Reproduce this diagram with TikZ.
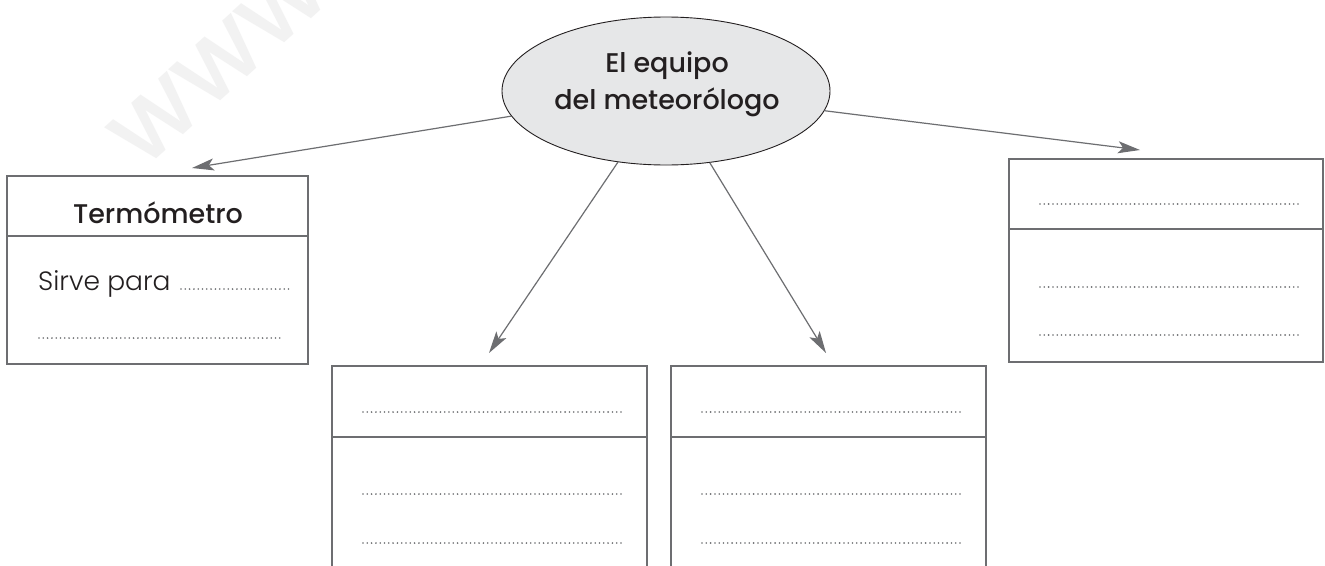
\documentclass[tikz,border=0pt]{standalone}
\usepackage{fontspec}
\setmainfont{Poppins}
\newfontfamily\lightfont{Poppins Light}
\newfontfamily\medfont{Poppins Medium}
\usetikzlibrary{shapes.geometric,arrows.meta}
\definecolor{linegray}{HTML}{6D6E71}
\definecolor{inkdark}{HTML}{231F20}
\definecolor{ellfill}{HTML}{E6E7E8}
\definecolor{wmgray}{HTML}{F2F2F2}
\definecolor{dotgray}{HTML}{6D6E71}
\begin{document}
\begin{tikzpicture}[x=1pt,y=-1pt,
  cell/.style={draw=linegray, line width=2pt, rectangle, inner sep=0pt, outer sep=0pt, anchor=north west},
  ellnode/.style={ellipse, draw=inkdark, line width=0.9pt, fill=ellfill, minimum width=328pt, minimum height=148pt, inner sep=0pt},
  title/.style={text=inkdark, font=\medfont\fontsize{27}{34}\selectfont, anchor=base, inner sep=0pt},
  lighttext/.style={text=inkdark, font=\lightfont\fontsize{26.5}{34}\selectfont, anchor=base west, inner sep=0pt},
  dots/.style={draw=dotgray, line width=1.8pt, line cap=round, dash pattern=on 0pt off 4.3pt},
  conn/.style={draw=linegray, line width=1.2pt, -{Stealth[length=22pt,width=12pt,inset=5pt]}},
  wmark/.style={text=wmgray, font=\medfont\fontsize{105}{105}\selectfont, rotate=42, anchor=base west, inner sep=0pt}]
\useasboundingbox (0,0) rectangle (1325,565);
\clip (0,0) rectangle (1325,565);
\fill[white] (0,0) rectangle (1325,565);
% watermark
\node[wmark] (wm) at (142,172) {www};
% central ellipse
\node[ellnode] (ell) at (666,91) {};
\node[title] (eq1) at (667,72) {El equipo};
\node[title] (eq2) at (667,109) {del meteorólogo};
% Termometro box
\node[cell, minimum width=301pt, minimum height=60pt] (th) at (7,176) {};
\node[cell, minimum width=301pt, minimum height=128pt] (tb) at (7,236) {};
\node[title] (ttitle) at (158,223) {Termómetro};
\node[lighttext] (sirve) at (38,290) {Sirve para};
\draw[dots] (181,289) -- (289,289);
\draw[dots] (39,338) -- (283,338);
% right box
\node[cell, minimum width=314pt, minimum height=70pt] (rh) at (1009,159) {};
\node[cell, minimum width=314pt, minimum height=133pt] (rb) at (1009,229) {};
\draw[dots] (1040,204) -- (1298,204);
\draw[dots] (1040,287) -- (1298,287);
\draw[dots] (1040,335) -- (1298,335);
% bottom left box
\node[cell, minimum width=315pt, minimum height=71pt] (lh) at (332,366) {};
\node[cell, minimum width=315pt, minimum height=200pt] (lb) at (332,437) {};
\draw[dots] (363,412) -- (622,412);
\draw[dots] (363,494) -- (622,494);
\draw[dots] (363,543) -- (622,543);
% bottom right box
\node[cell, minimum width=315pt, minimum height=71pt] (mh) at (671,366) {};
\node[cell, minimum width=315pt, minimum height=200pt] (mb) at (671,437) {};
\draw[dots] (702,412) -- (960,412);
\draw[dots] (702,494) -- (960,494);
\draw[dots] (702,543) -- (960,543);
% connectors
\coordinate (tipA) at (192,168);
\coordinate (tipB) at (1140,150);
\coordinate (tipC) at (489,353);
\coordinate (tipD) at (826,353);
\draw[conn] (ell) -- (tipA);
\draw[conn] (ell) -- (tipB);
\draw[conn] (ell) -- (tipC);
\draw[conn] (ell) -- (tipD);
\end{tikzpicture}
\end{document}
